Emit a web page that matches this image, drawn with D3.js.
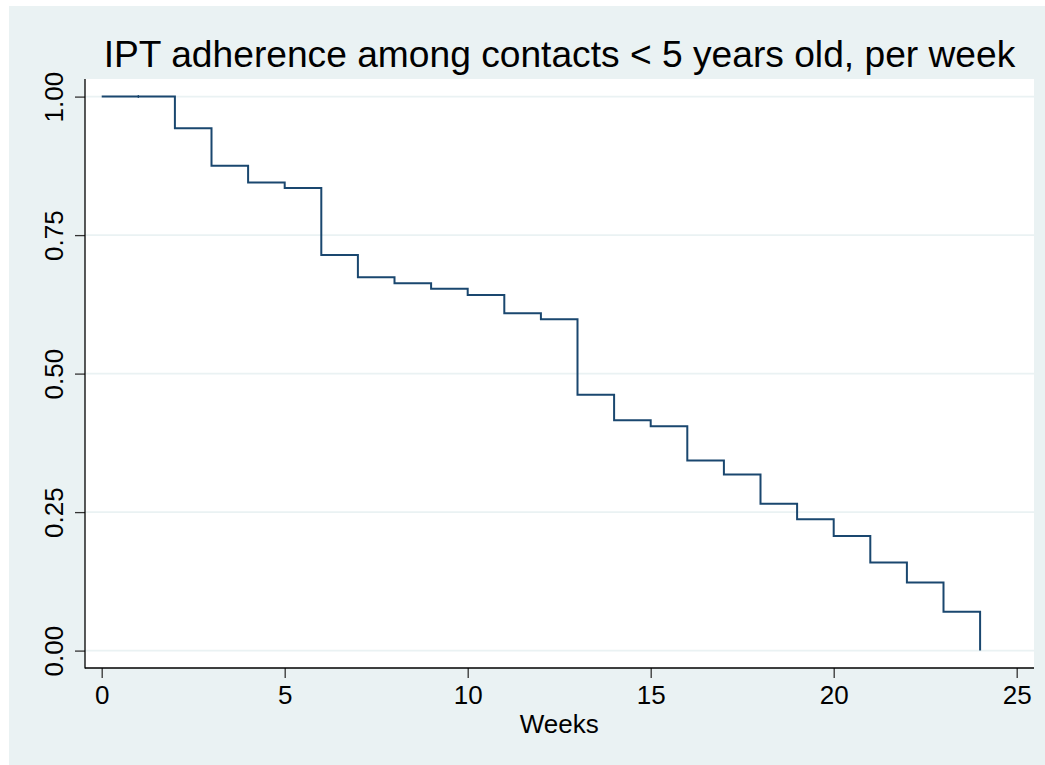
<!DOCTYPE html>
<html>
<head>
<meta charset="utf-8">
<script src="https://cdn.jsdelivr.net/npm/d3@7"></script>
<style>
  html, body { margin: 0; padding: 0; background: #ffffff; }
  svg { display: block; }
  text { font-family: "Liberation Sans", Arial, Helvetica, sans-serif; fill: #000; }
</style>
</head>
<body>
<script>
// Data (Kaplan-Meier step values)
const weeks = [0, 1, 2, 3, 4, 5, 6, 7, 8, 9, 10, 11, 12, 13, 14, 15, 16, 17, 18, 19, 20, 21, 22, 23, 24];
const survival = [1.000, 1.000, 0.943, 0.875, 0.845, 0.835, 0.714, 0.674, 0.663, 0.653, 0.642, 0.609, 0.598, 0.462, 0.416, 0.405, 0.343, 0.318, 0.265, 0.237, 0.207, 0.159, 0.123, 0.070, 0.000];
const censorWeeks = [1];
const xTicks = [0, 5, 10, 15, 20, 25];
const yTicks = [0, 0.25, 0.5, 0.75, 1];
const titleText = "IPT adherence among contacts < 5 years old, per week";
const xTitle = "Weeks";

const W = 1045, H = 765;
const svg = d3.select("body").append("svg").attr("width", W).attr("height", H);

// outer graph region
svg.append("rect").attr("x", 9).attr("y", 6).attr("width", W - 9).attr("height", H - 6).attr("fill", "#eaf2f3");

const plotL = 85, plotR = 1034, plotT = 79, plotB = 668;
svg.append("rect").attr("x", plotL).attr("y", plotT).attr("width", plotR - plotL).attr("height", plotB - plotT).attr("fill", "#ffffff");

const x = d3.scaleLinear().domain([0, 25]).range([101.7, 1016.7]);
const y = d3.scaleLinear().domain([0, 1]).range([650.6, 96.6]);

// gridlines
svg.append("g").selectAll("line").data(yTicks).join("line")
  .attr("x1", plotL).attr("x2", plotR)
  .attr("y1", d => y(d)).attr("y2", d => y(d))
  .attr("stroke", "#eaf2f3").attr("stroke-width", 1.6);

// step line
const pts = weeks.map((w, i) => [w, survival[i]]);
const line = d3.line().x(d => x(d[0])).y(d => y(d[1])).curve(d3.curveStepAfter);
svg.append("path").datum(pts).attr("d", line)
  .attr("fill", "none").attr("stroke", "#1a476f").attr("stroke-width", 2);

// censor ticks
svg.append("g").selectAll("line").data(censorWeeks).join("line")
  .attr("x1", d => x(d)).attr("x2", d => x(d))
  .attr("y1", d => y(1) - 1.5).attr("y2", d => y(1) + 1.5)
  .attr("stroke", "#1a476f").attr("stroke-width", 1.2);

// axes
const yAxis = d3.axisLeft(y).tickValues(yTicks).tickFormat(d3.format(".2f")).tickSize(10).tickPadding(0);
const gy = svg.append("g").attr("transform", `translate(${plotL},0)`).call(yAxis);
gy.select(".domain").remove();
gy.append("line").attr("x1", 0).attr("x2", 0).attr("y1", plotT).attr("y2", plotB + 0.5).attr("stroke", "#000").attr("stroke-width", 1.3);
gy.selectAll(".tick line").attr("stroke", "#333").attr("stroke-width", 1.3);
gy.selectAll(".tick text")
  .attr("font-size", 26).attr("font-family", "Liberation Sans, Arial, sans-serif").attr("fill", "#000")
  .attr("text-anchor", "middle").attr("dy", null).attr("x", null).attr("y", null)
  .attr("transform", "translate(-22,0) rotate(-90)");

const xAxis = d3.axisBottom(x).tickValues(xTicks).tickSize(10).tickPadding(0).tickFormat(d3.format("d"));
const gx = svg.append("g").attr("transform", `translate(0,${plotB})`).call(xAxis);
gx.select(".domain").remove();
gx.append("line").attr("x1", plotL).attr("x2", plotR).attr("y1", 0).attr("y2", 0).attr("stroke", "#000").attr("stroke-width", 1.3);
gx.selectAll(".tick line").attr("stroke", "#333").attr("stroke-width", 1.3);
gx.selectAll(".tick text")
  .attr("font-size", 26).attr("font-family", "Liberation Sans, Arial, sans-serif").attr("fill", "#000")
  .attr("dy", null).attr("y", 36);

// axis title
svg.append("text").attr("x", x(12.5)).attr("y", 733).attr("text-anchor", "middle")
  .attr("font-size", 26).text(xTitle);

// title
const t = svg.append("text").attr("x", (plotL + plotR) / 2).attr("y", 67).attr("text-anchor", "middle")
  .attr("font-size", 34).text(titleText);
const tw = t.node().getComputedTextLength();
t.attr("font-size", 34 * 912 / tw);
</script>
</body>
</html>
